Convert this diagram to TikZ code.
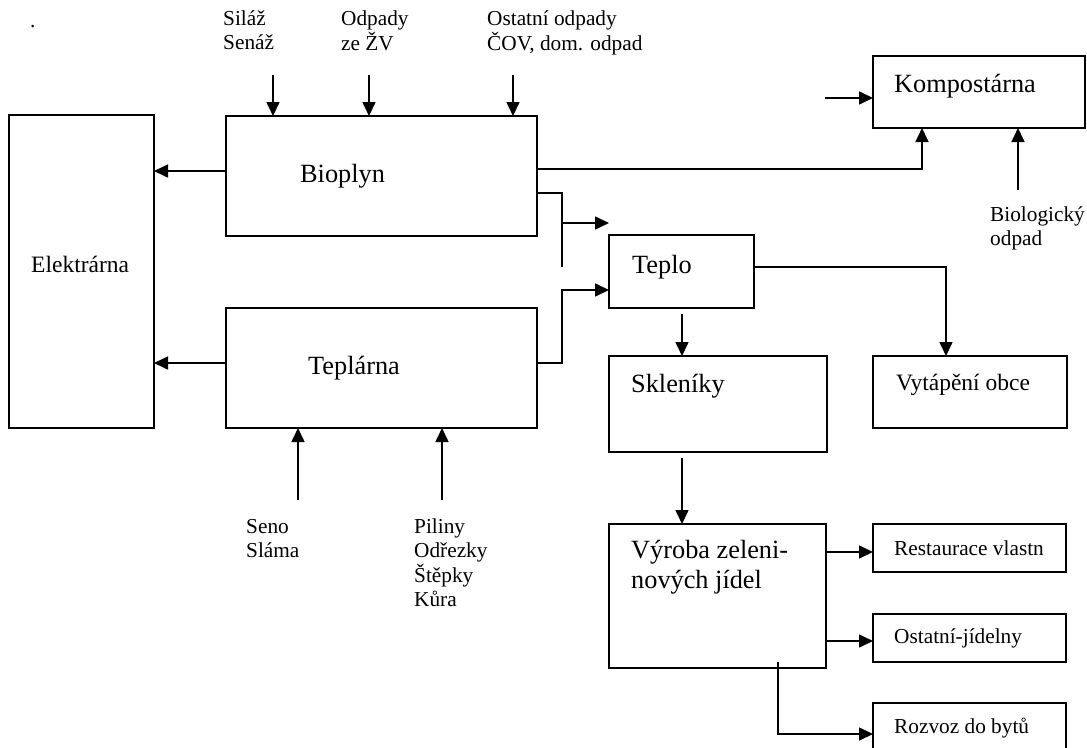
\documentclass[tikz,border=0pt]{standalone}
\usepackage{fontspec}
\setmainfont{Liberation Serif}
\usetikzlibrary{arrows.meta}
\begin{document}
\begin{tikzpicture}[x=1pt,y=-1pt,
  box/.style={draw,line width=1.9pt,inner sep=0pt,outer sep=0pt,anchor=north west},
  conn/.style={line width=1.6pt},
  arr/.style={conn,-{Triangle[length=14pt,width=13pt]}},
  big/.style={font=\fontsize{26.3}{30}\selectfont,inner sep=0pt,anchor=base west},
  mid/.style={font=\fontsize{23.5}{26}\selectfont,inner sep=0pt,anchor=base west},
  small/.style={font=\fontsize{21.3}{24}\selectfont,inner sep=0pt,anchor=base west},
]
\useasboundingbox (0,0) rectangle (1087,747);
\clip (0,0) rectangle (1087,747);
\fill[white] (0,0) rectangle (1087,747);

% boxes
\node[box,minimum width=145pt,minimum height=313pt] (elek) at (9,115) {};
\node[box,minimum width=311pt,minimum height=120pt] (bio) at (226,116) {};
\node[box,minimum width=311pt,minimum height=120pt] (tepl) at (226,308) {};
\node[box,minimum width=212pt,minimum height=72pt] (komp) at (873,56) {};
\node[box,minimum width=145pt,minimum height=73pt] (teplo) at (609,235) {};
\node[box,minimum width=218pt,minimum height=96pt] (sklen) at (609,356) {};
\node[box,minimum width=194pt,minimum height=72pt] (vyt) at (873,356) {};
\node[box,minimum width=217pt,minimum height=144pt] (vyr) at (609,524) {};
\node[box,minimum width=193pt,minimum height=48pt] (rest) at (873,524) {};
\node[box,minimum width=193pt,minimum height=48pt] (ost) at (873,614) {};
\node[box,minimum width=193pt,minimum height=60pt] (roz) at (873,703) {};

% box texts
\node[mid] (telek) at (31,272) {Elektrárna};
\node[big] (tbio) at (300,182) {Bioplyn};
\node[big] (ttepl) at (308,374) {Teplárna};
\node[big] (tkomp) at (894,92) {Kompostárna};
\node[big] (tteplo) at (632,273) {Teplo};
\node[big] (tsklen) at (631,392) {Skleníky};
\node[mid] (tvyt) at (896,390) {Vytápění obce};
\node[big] (tvyr) at (631,558) {\begin{tabular}[t]{@{}l@{}}Výroba zeleni-\\nových jídel\end{tabular}};
\node[small] (trest) at (894,555) {Restaurace vlastn};
\node[small] (tost) at (894,643) {Ostatní-jídelny};
\node[small] (troz) at (894,733) {Rozvoz do bytů};

% free labels
\node[small] (dot) at (30,27) {.};
\node[small] (lsil) at (223,25) {\begin{tabular}[t]{@{}l@{}}Siláž\\Senáž\end{tabular}};
\node[small] (lodp) at (341,25) {\begin{tabular}[t]{@{}l@{}}Odpady\\ze ŽV\end{tabular}};
\node[small] (lost) at (487,25) {\begin{tabular}[t]{@{}l@{}}Ostatní odpady\\ČOV, dom. odpad\end{tabular}};
\node[small] (lbio) at (990,221) {\begin{tabular}[t]{@{}l@{}}Biologický\\odpad\end{tabular}};
\node[small] (lsen) at (246,533) {\begin{tabular}[t]{@{}l@{}}Seno\\Sláma\end{tabular}};
\node[small] (lpil) at (414,533) {\begin{tabular}[t]{@{}l@{}}Piliny\\Odřezky\\Štěpky\\Kůra\end{tabular}};

% free connector ends
\coordinate (in1) at (273,75);
\coordinate (in2) at (369,75);
\coordinate (in3) at (513,75);
\coordinate (inK) at (825,98);
\coordinate (inB) at (1018,190);
\coordinate (inS) at (298,500);
\coordinate (inP) at (442,500);
\coordinate (jb) at (562,193);
\coordinate (jbend) at (562,267);
\coordinate (jbarr) at (609,223);
\coordinate (jt) at (562,290);

% connectors
\draw[arr] (in1) -- (in1 |- bio.north);
\draw[arr] (in2) -- (in2 |- bio.north);
\draw[arr] (in3) -- (in3 |- bio.north);
\draw[arr] (bio.west |- 0,171) -- (elek.east |- 0,171);
\draw[arr] (tepl.west |- 0,363) -- (elek.east |- 0,363);
\draw[arr] (inS) -- (inS |- tepl.south);
\draw[arr] (inP) -- (inP |- tepl.south);
\draw[arr] (inK) -- (komp.west |- inK);
\draw[arr] (bio.east |- 0,169) -| (komp.south -| 922,0);
\draw[arr] (inB) -- (inB |- komp.south);
\draw[conn] (bio.east |- jb) -- (jb) -- (jbend);
\draw[arr] (jb |- jbarr) -- (jbarr);
\draw[arr] (tepl.east |- 0,363) -| (jt) -- (teplo.west |- jt);
\draw[arr] (teplo.east |- 0,267) -| (vyt.north -| 946,0);
\draw[arr] (682,314) -- (sklen.north -| 682,0);
\draw[arr] (682,458) -- (vyr.north -| 682,0);
\draw[arr] (vyr.east |- 0,552) -- (rest.west |- 0,552);
\draw[arr] (vyr.east |- 0,641) -- (ost.west |- 0,641);
\draw[arr] (778,662) |- (roz.west |- 0,734);
\end{tikzpicture}
\end{document}
